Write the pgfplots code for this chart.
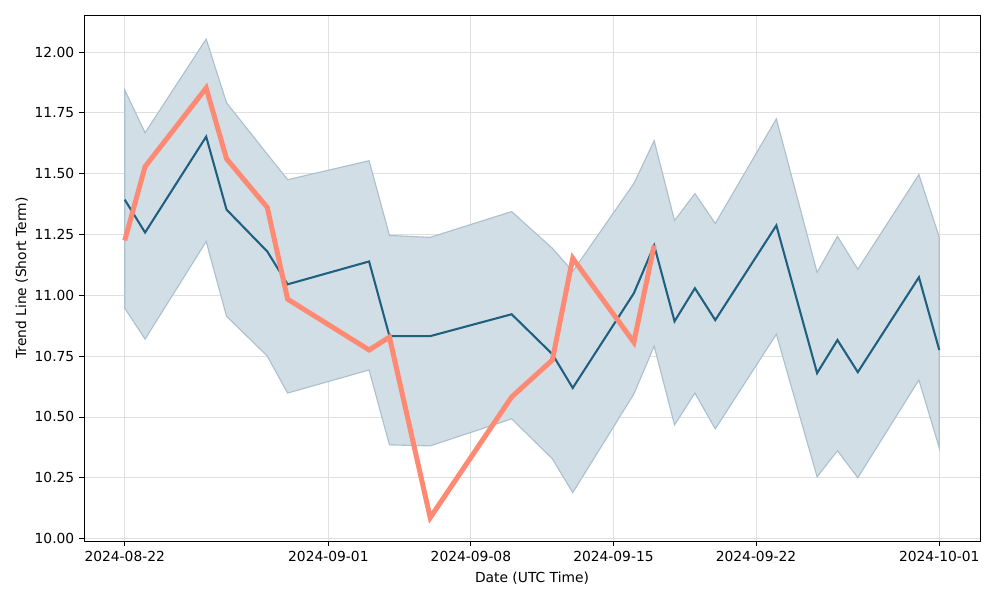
\documentclass[border=0pt]{standalone}
\usepackage{pgfplots}
\pgfplotsset{compat=1.18}
\usepackage{fontspec}
\setmainfont{DejaVu Sans}
\definecolor{darkline}{RGB}{31,95,127}
\definecolor{bandfill}{RGB}{209,222,229}
\definecolor{bandedge}{RGB}{170,192,205}
\definecolor{salmon}{RGB}{255,138,115}
\begin{document}
\begin{tikzpicture}
\useasboundingbox (-0.84in,-0.59in) rectangle (9.16in,5.41in);
\begin{axis}[
  at={(0,0)}, anchor=south west,
  scale only axis, width=8.96in, height=5.26in,
  xmin=-2, xmax=42, ymin=9.99, ymax=12.152,
  xtick={0,10,17,24,31,40},
  xticklabels={2024-08-22,2024-09-01,2024-09-08,2024-09-15,2024-09-22,2024-10-01},
  ytick={10,10.25,10.5,10.75,11,11.25,11.5,11.75,12},
  yticklabel style={/pgf/number format/.cd,fixed,fixed zerofill,precision=2},
  /pgf/number format/assume math mode=true,
  xtick pos=bottom, ytick pos=left,
  grid=major, grid style={gray!25, line width=0.6pt},
  tick align=outside, tick style={black, line width=0.6pt},
  major tick length=3.5pt,
  xlabel={Date (UTC Time)}, ylabel={Trend Line (Short Term)},
  every tick label/.style={font=\fontsize{10}{12}\selectfont},
  label style={font=\fontsize{10}{12}\selectfont},
  xlabel style={yshift=-1pt}, ylabel style={yshift=-2pt},
  axis line style={black, line width=0.6pt},
]
\addplot[draw=bandedge, fill=bandfill, line width=0.8pt] coordinates {
(0,11.844)(1,11.668)(4,12.053)(5,11.791)(7,11.58)(8,11.475)(12,11.553)(13,11.246)(15,11.238)(19,11.344)(21,11.193)(22,11.098)(25,11.459)(26,11.635)(27,11.307)(28,11.418)(29,11.295)(32,11.725)(34,11.094)(35,11.242)(36,11.107)(39,11.496)(40,11.238)
(40,10.373)(39,10.652)(36,10.250)(35,10.361)(34,10.254)(32,10.840)(29,10.451)(28,10.598)(27,10.467)(26,10.791)(25,10.594)(22,10.189)(21,10.328)(19,10.492)(15,10.381)(13,10.385)(12,10.693)(8,10.598)(7,10.75)(5,10.914)(4,11.221)(1,10.820)(0,10.947)
} -- cycle;
\addplot[darkline, line width=1.5pt] coordinates {
(0,11.393)(1,11.258)(4,11.652)(5,11.352)(7,11.18)(8,11.045)(12,11.139)(13,10.832)(15,10.832)(19,10.922)(21,10.758)(22,10.619)(25,11.008)(26,11.205)(27,10.893)(28,11.029)(29,10.898)(32,11.287)(34,10.68)(35,10.816)(36,10.684)(39,11.074)(40,10.775)
};
\addplot[salmon, line width=3.6pt] coordinates {
(0,11.225)(1,11.529)(4,11.852)(5,11.561)(7,11.361)(8,10.984)(12,10.775)(13,10.828)(15,10.086)(19,10.582)(21,10.734)(22,11.152)(25,10.807)(26,11.205)
};
\end{axis}
\end{tikzpicture}
\end{document}
